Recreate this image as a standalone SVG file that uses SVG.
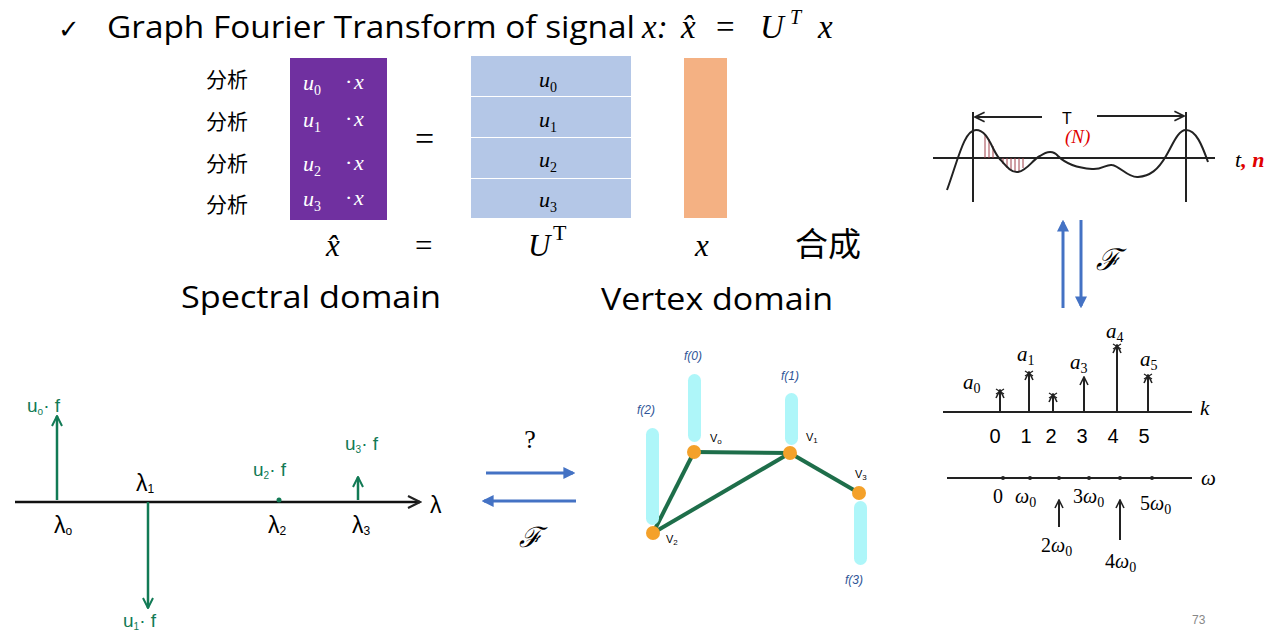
<svg xmlns="http://www.w3.org/2000/svg" width="1286" height="640" viewBox="0 0 1286 640">
<defs>
<style>
.t{font-family:"Open Sans","Noto Sans",sans-serif;fill:#000}
.m{font-family:"Liberation Serif","DejaVu Serif",serif;font-style:italic;fill:#000}
.mr{font-family:"Liberation Serif","DejaVu Serif",serif;fill:#000}
.cjk{font-family:"Noto Sans CJK SC",sans-serif;fill:#000}
.w{fill:#fff}
.g{font-family:"Liberation Sans",sans-serif;fill:#127A55}
.blk{font-family:"Liberation Sans",sans-serif;fill:#000}
.fb{font-family:"Liberation Sans",sans-serif;font-style:italic;fill:#2F5597;font-size:12px}
.ink{stroke:#222;stroke-width:2;fill:none}
.grn{stroke:#127A55;stroke-width:2.5;fill:none}
.blue{stroke:#4472C4;stroke-width:3;fill:none}
.edge{stroke:#1E6E4A;stroke-width:4;fill:none}
.bar{fill:#AEF6F9}
.vtx{fill:#F4A12A}
</style>
<marker id="ab" viewBox="0 0 10 10" refX="8" refY="5" markerWidth="4" markerHeight="4" orient="auto"><path d="M0,0 L10,5 L0,10 z" fill="#4472C4"/></marker>
<marker id="ag" viewBox="0 0 10 10" refX="9" refY="5" markerWidth="5" markerHeight="5" orient="auto"><path d="M1,1 L9,5 L1,9" fill="none" stroke="#127A55" stroke-width="1.6"/></marker>
<marker id="ak" viewBox="0 0 10 10" refX="9" refY="5" markerWidth="6" markerHeight="6" orient="auto"><path d="M1,1 L9,5 L1,9" fill="none" stroke="#222" stroke-width="1.4"/></marker>
<marker id="aks" viewBox="0 0 10 10" refX="9" refY="5" markerWidth="5" markerHeight="5" orient="auto"><path d="M1,1 L9,5 L1,9" fill="none" stroke="#222" stroke-width="1.6"/></marker>
</defs>
<rect width="1286" height="640" fill="#fff"/>

<g id="title">
<text x="58" y="38" class="blk" font-size="26" font-family="DejaVu Sans">✓</text>
<text x="107" y="38" class="t" font-size="31" textLength="528" lengthAdjust="spacingAndGlyphs">Graph Fourier Transform of signal</text>
<text x="642" y="38" class="m" font-size="33">x<tspan class="mr">:</tspan></text>
<text x="681" y="38" class="m" font-size="33">x̂</text>
<text x="716" y="38" class="mr" font-size="33">=</text>
<text x="760" y="38" class="m" font-size="33">U</text>
<text x="790" y="24" class="m" font-size="20">T</text>
<text x="818" y="38" class="m" font-size="33">x</text>
</g>

<g id="analysis-labels" class="cjk" font-size="21">
<text x="206" y="87">分析</text>
<text x="206" y="129">分析</text>
<text x="206" y="171">分析</text>
<text x="206" y="212">分析</text>
</g>

<g id="xhat-matrix">
<rect x="290" y="58" width="97" height="162" fill="#7030A0"/>
<g class="m w" font-size="22">
<text x="303" y="90">u<tspan font-size="14" dy="5" font-style="normal">0</tspan></text><text x="345" y="89" font-style="normal">·</text><text x="354" y="89">x</text>
<text x="303" y="127">u<tspan font-size="14" dy="5" font-style="normal">1</tspan></text><text x="345" y="126" font-style="normal">·</text><text x="354" y="126">x</text>
<text x="303" y="171">u<tspan font-size="14" dy="5" font-style="normal">2</tspan></text><text x="345" y="170" font-style="normal">·</text><text x="354" y="170">x</text>
<text x="303" y="206">u<tspan font-size="14" dy="5" font-style="normal">3</tspan></text><text x="345" y="205" font-style="normal">·</text><text x="354" y="205">x</text>
</g>
</g>

<text x="415" y="150" class="mr" font-size="34">=</text>

<g id="ut-matrix">
<rect x="471" y="56" width="160" height="40" fill="#B4C7E7"/>
<rect x="471" y="97" width="160" height="40" fill="#B4C7E7"/>
<rect x="471" y="138" width="160" height="40" fill="#B4C7E7"/>
<rect x="471" y="179" width="160" height="39" fill="#B4C7E7"/>
<g class="m" font-size="22">
<text x="539" y="87">u<tspan font-size="14" dy="5" font-style="normal">0</tspan></text>
<text x="539" y="127">u<tspan font-size="14" dy="5" font-style="normal">1</tspan></text>
<text x="539" y="167">u<tspan font-size="14" dy="5" font-style="normal">2</tspan></text>
<text x="539" y="207">u<tspan font-size="14" dy="5" font-style="normal">3</tspan></text>
</g>
</g>

<g id="x-vector">
<rect x="684" y="58" width="43" height="160" fill="#F4B183"/>
</g>

<g id="equation-row">
<text x="326" y="256" class="m" font-size="31">x̂</text>
<text x="415" y="256" class="mr" font-size="31">=</text>
<text x="528" y="256" class="m" font-size="31">U</text>
<text x="553" y="240" class="mr" font-size="22">T</text>
<text x="695" y="256" class="m" font-size="31">x</text>
<text x="795" y="256" class="cjk" font-size="33">合成</text>
<text x="181" y="308" class="t" font-size="31" textLength="260" lengthAdjust="spacingAndGlyphs">Spectral domain</text>
<text x="601" y="310" class="t" font-size="31" textLength="232" lengthAdjust="spacingAndGlyphs">Vertex domain</text>
</g>

<g id="time-signal">
<line x1="933" y1="158" x2="1215" y2="158" class="ink"/>
<line x1="973" y1="112" x2="973" y2="202" class="ink"/>
<line x1="1186" y1="112" x2="1186" y2="202" class="ink"/>
<line x1="1042" y1="117" x2="975" y2="117" class="ink" stroke-width="1.5" marker-end="url(#ak)"/>
<line x1="1097" y1="116" x2="1184" y2="116" class="ink" stroke-width="1.5" marker-end="url(#ak)"/>
<g stroke="#A0404A" stroke-width="1">
<line x1="985" y1="134" x2="985" y2="158"/><line x1="989" y1="139" x2="989" y2="158"/><line x1="993" y1="146" x2="993" y2="158"/>
<line x1="1003" y1="158" x2="1003" y2="164"/><line x1="1007" y1="158" x2="1007" y2="168"/><line x1="1011" y1="158" x2="1011" y2="170"/><line x1="1015" y1="158" x2="1015" y2="171"/><line x1="1019" y1="158" x2="1019" y2="171"/><line x1="1023" y1="158" x2="1023" y2="168"/>
</g>
<path d="M947,190 C958,160 964,130 976,130 C988,130 992,150 999,158 C1006,166 1011,173 1018,172 C1028,170 1032,160 1040,156 C1047,151 1053,150 1058,156 C1066,164 1078,168 1092,169 C1102,170 1106,164 1112,165 C1120,166 1128,178 1138,177 C1150,176 1158,170 1166,156 C1173,144 1178,130 1186,130 C1196,130 1202,145 1208,162" class="ink"/>
<text x="1062" y="124" class="blk" font-size="16">T</text>
<text x="1065" y="143" class="m" font-size="19" style="fill:#E00000">(N)</text>
<text x="1235" y="167" class="m" font-size="22">t<tspan style="fill:#E00000;font-weight:bold">, n</tspan></text>
</g>

<g id="vertical-transform">
<line x1="1063" y1="308" x2="1063" y2="222" class="blue" marker-end="url(#ab)"/>
<line x1="1081" y1="220" x2="1081" y2="306" class="blue" marker-end="url(#ab)"/>
<text x="1096" y="270" class="m" font-size="30" font-family="DejaVu Serif">ℱ</text>
</g>

<g id="line-spectrum">
<line x1="943" y1="412" x2="1192" y2="412" class="ink"/>
<text x="1200" y="415" class="m" font-size="21">k</text>
<g class="ink">
<line x1="1000" y1="412" x2="1000" y2="390" marker-end="url(#aks)"/>
<line x1="1029" y1="412" x2="1029" y2="372" marker-end="url(#aks)"/>
<line x1="1053" y1="412" x2="1053" y2="394" marker-end="url(#aks)"/>
<line x1="1084" y1="412" x2="1084" y2="377" marker-end="url(#aks)"/>
<line x1="1117" y1="412" x2="1117" y2="345" marker-end="url(#aks)"/>
<line x1="1148" y1="412" x2="1148" y2="375" marker-end="url(#aks)"/>
</g>
<g stroke="#222" stroke-width="1.3">
<path d="M996,389 l8,5 M1004,389 l-8,5"/>
<path d="M1025,371 l8,5 M1033,371 l-8,5"/>
<path d="M1049,393 l8,5 M1057,393 l-8,5"/>
<path d="M1113,344 l8,5 M1121,344 l-8,5"/>
<path d="M1144,374 l8,5 M1152,374 l-8,5"/>
</g>
<g class="m" font-size="21">
<text x="963" y="389">a<tspan font-size="14" dy="4" font-style="normal">0</tspan></text>
<text x="1017" y="361">a<tspan font-size="14" dy="4" font-style="normal">1</tspan></text>
<text x="1070" y="369">a<tspan font-size="14" dy="4" font-style="normal">3</tspan></text>
<text x="1106" y="338">a<tspan font-size="14" dy="4" font-style="normal">4</tspan></text>
<text x="1140" y="366">a<tspan font-size="14" dy="4" font-style="normal">5</tspan></text>
</g>
<g class="blk" font-size="20" text-anchor="middle">
<text x="995" y="443">0</text><text x="1026" y="443">1</text><text x="1051" y="443">2</text><text x="1082" y="443">3</text><text x="1113" y="443">4</text><text x="1144" y="443">5</text>
</g>
<line x1="947" y1="478" x2="1192" y2="478" class="ink"/>
<text x="1201" y="485" class="m" font-size="21">ω</text>
<g fill="#222">
<circle cx="1003" cy="478" r="2"/><circle cx="1030" cy="478" r="2"/><circle cx="1059" cy="478" r="2"/><circle cx="1089" cy="478" r="2"/><circle cx="1120" cy="478" r="2"/><circle cx="1152" cy="478" r="2"/>
</g>
<g class="m" font-size="20">
<text x="993" y="503" font-style="normal">0</text>
<text x="1015" y="503">ω<tspan font-size="14" dy="4" font-style="normal">0</tspan></text>
<text x="1073" y="503"><tspan font-style="normal">3</tspan>ω<tspan font-size="14" dy="4" font-style="normal">0</tspan></text>
<text x="1140" y="510"><tspan font-style="normal">5</tspan>ω<tspan font-size="14" dy="4" font-style="normal">0</tspan></text>
<text x="1041" y="552"><tspan font-style="normal">2</tspan>ω<tspan font-size="14" dy="4" font-style="normal">0</tspan></text>
<text x="1105" y="568"><tspan font-style="normal">4</tspan>ω<tspan font-size="14" dy="4" font-style="normal">0</tspan></text>
</g>
<line x1="1059" y1="527" x2="1059" y2="500" class="ink" marker-end="url(#aks)"/>
<line x1="1120" y1="540" x2="1120" y2="500" class="ink" marker-end="url(#aks)"/>
</g>

<g id="spectral-plot">
<line x1="15" y1="502" x2="420" y2="502" stroke="#111" stroke-width="2.5" marker-end="url(#ak)"/>
<text x="430" y="513" class="blk" font-size="23">λ</text>
<line x1="57" y1="500" x2="57" y2="416" class="grn" marker-end="url(#ag)"/>
<line x1="148" y1="502" x2="148" y2="608" class="grn" marker-end="url(#ag)"/>
<line x1="358" y1="500" x2="358" y2="477" class="grn" marker-end="url(#ag)"/>
<circle cx="279" cy="500" r="2.5" fill="#127A55"/>
<g class="g" font-size="19">
<text x="27" y="412">u<tspan font-size="10" dy="3">o</tspan><tspan dy="-3">· f</tspan></text>
<text x="123" y="627">u<tspan font-size="10" dy="3">1</tspan><tspan dy="-3">· f</tspan></text>
<text x="253" y="476">u<tspan font-size="10" dy="3">2</tspan><tspan dy="-3">· f</tspan></text>
<text x="345" y="450">u<tspan font-size="10" dy="3">3</tspan><tspan dy="-3">· f</tspan></text>
</g>
<g class="blk" font-size="23">
<text x="54" y="533">λ<tspan font-size="12" dy="2">o</tspan></text>
<text x="136" y="491">λ<tspan font-size="12" dy="2">1</tspan></text>
<text x="268" y="533">λ<tspan font-size="12" dy="2">2</tspan></text>
<text x="352" y="533">λ<tspan font-size="12" dy="2">3</tspan></text>
</g>
</g>

<g id="middle-transform">
<text x="530" y="448" class="mr" font-size="26" text-anchor="middle">?</text>
<line x1="486" y1="473" x2="573" y2="473" class="blue" marker-end="url(#ab)"/>
<line x1="576" y1="501" x2="484" y2="501" class="blue" marker-end="url(#ab)"/>
<text x="530" y="547" class="m" font-size="28" text-anchor="middle" font-family="DejaVu Serif">ℱ</text>
</g>

<g id="connectors">
<line x1="694" y1="452" x2="790" y2="453" class="edge"/>
<line x1="694" y1="452" x2="653" y2="533" class="edge"/>
<line x1="653" y1="533" x2="790" y2="453" class="edge"/>
<line x1="790" y1="453" x2="859" y2="493" class="edge"/>
</g>

<g id="node-v0">
<rect x="688" y="374" width="13" height="68" rx="6.5" class="bar"/>
<circle cx="694" cy="452" r="7" class="vtx"/>
<text x="684" y="360" class="fb">f(0)</text>
<text x="710" y="442" class="blk" font-size="11">V<tspan font-size="8" dy="2">o</tspan></text>
</g>
<g id="node-v1">
<rect x="785" y="393" width="13" height="52" rx="6.5" class="bar"/>
<circle cx="790" cy="453" r="7" class="vtx"/>
<text x="781" y="380" class="fb">f(1)</text>
<text x="806" y="441" class="blk" font-size="11">V<tspan font-size="8" dy="2">1</tspan></text>
</g>
<g id="node-v2">
<rect x="646" y="428" width="13" height="97" rx="6.5" class="bar"/>
<circle cx="653" cy="533" r="7" class="vtx"/>
<text x="637" y="414" class="fb">f(2)</text>
<text x="666" y="543" class="blk" font-size="11">V<tspan font-size="8" dy="2">2</tspan></text>
</g>
<g id="node-v3">
<rect x="854" y="501" width="13" height="64" rx="6.5" class="bar"/>
<circle cx="859" cy="493" r="7" class="vtx"/>
<text x="855" y="478" class="blk" font-size="11">V<tspan font-size="8" dy="2">3</tspan></text>
<text x="845" y="584" class="fb">f(3)</text>
</g>

<text x="1192" y="624" font-family="Liberation Sans,sans-serif" font-size="12" fill="#888">73</text>
</svg>
